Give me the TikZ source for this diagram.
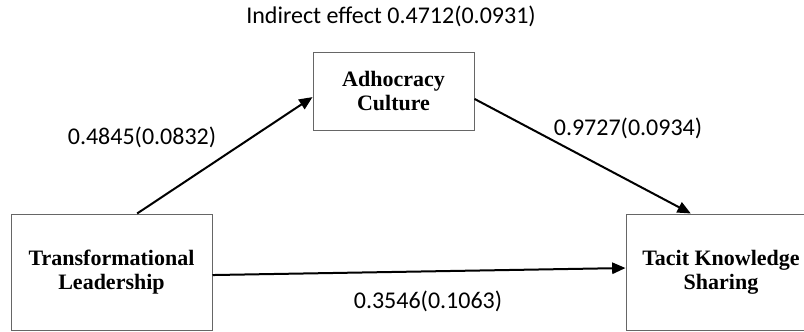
\documentclass[tikz,border=0pt]{standalone}
\usepackage{fontspec}
\setmainfont{Liberation Serif}
\newfontfamily\labfont{Carlito}
\usetikzlibrary{arrows.meta,calc}
\tikzstyle{var}=[rectangle,draw=black!60,line width=0.75pt,inner sep=0pt,align=center,font=\fontsize{16.5}{18}\selectfont\bfseries]
\tikzstyle{lab}=[inner sep=0pt,font=\labfont\fontsize{18}{20}\selectfont]
\tikzstyle{arr}=[-{Triangle[length=10pt,width=8.5pt]},line width=1.5pt]

\begin{document}
\begin{tikzpicture}[x=0.75pt,y=-0.75pt]
\useasboundingbox (0,0) rectangle (804,332);
\clip (0,0) rectangle (804,332);
\node[var,minimum width=150.75pt,minimum height=87pt] (tl) at (111.5,272) {Transformational\\Leadership};
\node[var,minimum width=120.75pt,minimum height=58.5pt] (ac) at (393.5,91) {Adhocracy\\Culture};
\node[var,minimum width=142.5pt,minimum height=87pt] (tks) at (721,272) {Tacit Knowledge\\Sharing};
\node[lab] (ind) at (391,16) {Indirect effect 0.4712(0.0931)};
\node[lab] (pa) at (142,137) {0.4845(0.0832)};
\node[lab] (pb) at (628,128) {0.9727(0.0934)};
\node[lab] (pc) at (428,301) {0.3546(0.1063)};
\draw[arr] ($(tl.north west)!0.627!(tl.north east)$) -- ($(ac.north west)!0.577!(ac.south west)$);
\draw[arr] ($(ac.north east)!0.6!(ac.south east)$) -- ($(tks.north west)!0.342!(tks.north east)$);
\draw[arr] ($(tl.north east)!0.526!(tl.south east)$) -- ($(tks.north west)!0.466!(tks.south west)$);
\end{tikzpicture}
\end{document}
